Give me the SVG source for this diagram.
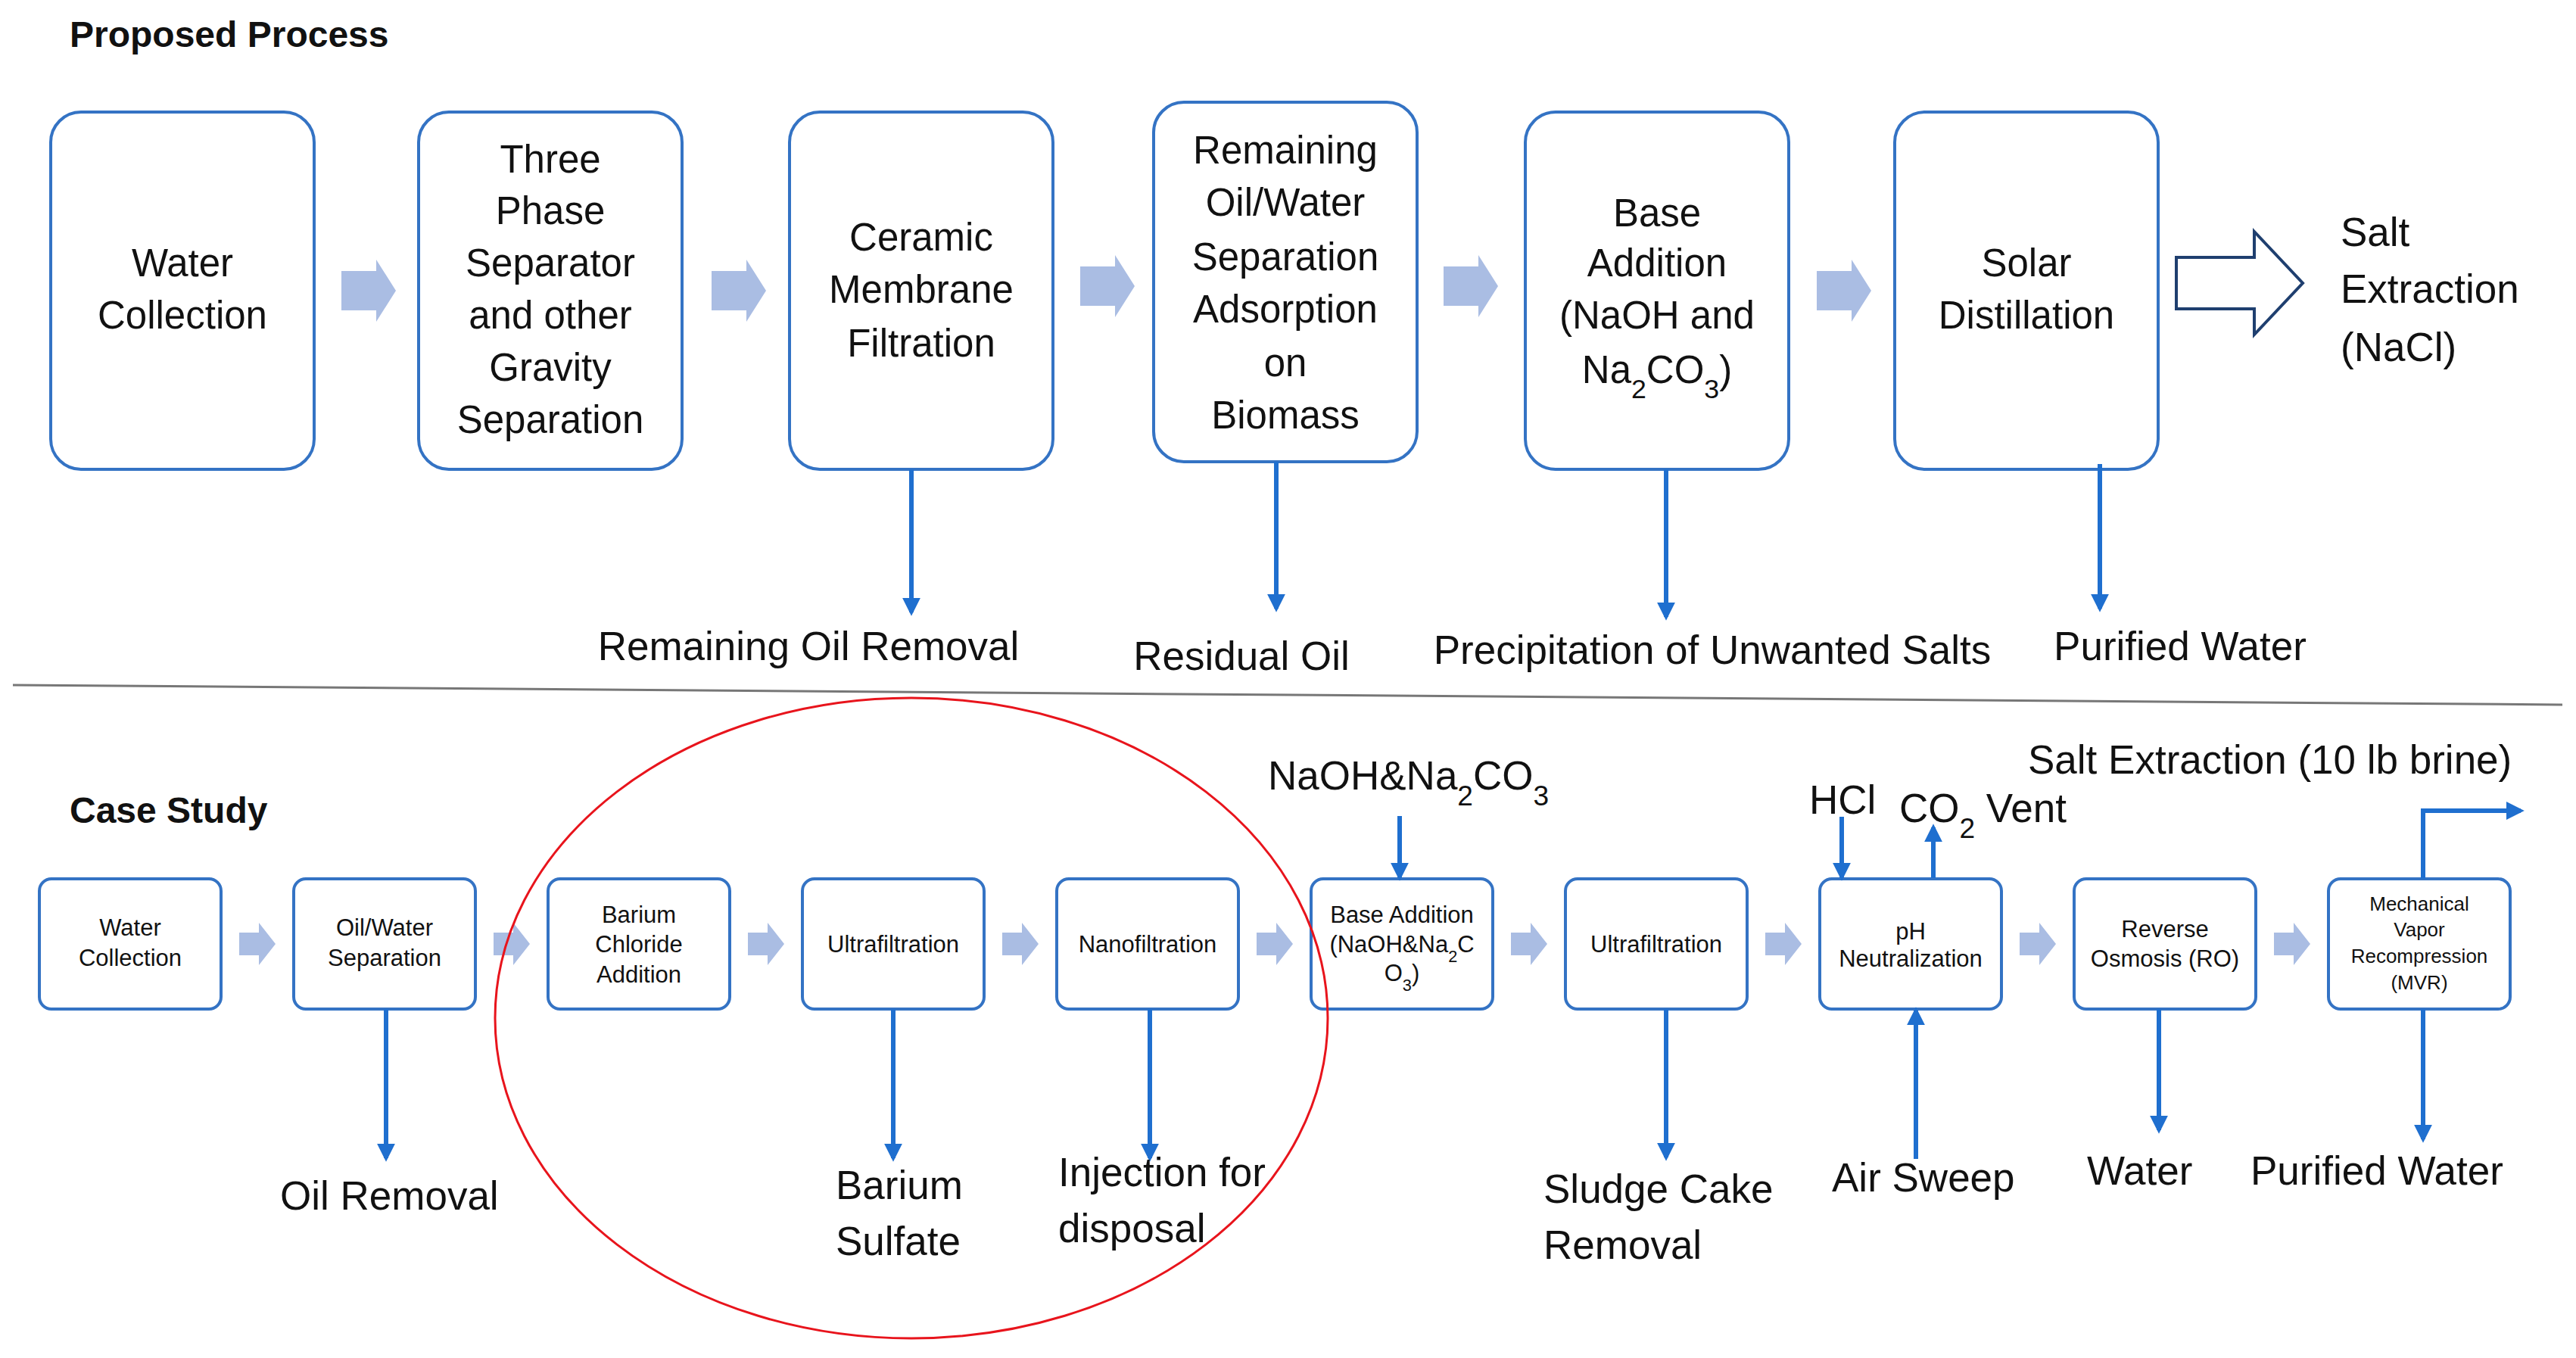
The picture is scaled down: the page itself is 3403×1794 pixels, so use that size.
<svg xmlns="http://www.w3.org/2000/svg" width="3403" height="1794" viewBox="0 0 3403 1794">
<style>
text{font-family:"Liberation Sans",Arial,sans-serif;fill:#111}
.b{fill:#fff;stroke:#3473c4;stroke-width:4}
.t{font-size:51px;text-anchor:middle}
.s{font-size:31px;text-anchor:middle}
.l{font-size:53px}
.h{font-size:48px;font-weight:bold}
.ch{fill:#aabde3}
.ln{stroke:#1f6fcf;stroke-width:6;fill:none}
.sub{font-size:70%}
</style>
<defs>
<marker id="ah" viewBox="0 0 10 10" refX="8" refY="5" markerWidth="4" markerHeight="4" orient="auto"><path d="M0,0L10,5L0,10z" fill="#1f6fcf"/></marker>
<path id="chv" d="M0,-26H46V-41L72,0L46,41V26H0z"/>
<path id="chs" d="M0,-15H26V-28L48,0L26,28V15H0z"/>
</defs>
<text class="h" x="92" y="62">Proposed Process</text>
<g id="p1"><rect class="b" x="67" y="148" width="348" height="472" rx="40"/><text class="t" x="241" y="365">Water</text><text class="t" x="241" y="434">Collection</text></g>
<g id="p2"><rect class="b" x="553" y="148" width="348" height="472" rx="40"/><text class="t" x="727"><tspan x="727" y="228">Three</tspan><tspan x="727" y="296">Phase</tspan><tspan x="727" y="365">Separator</tspan><tspan x="727" y="434">and other</tspan><tspan x="727" y="503">Gravity</tspan><tspan x="727" y="572">Separation</tspan></text></g>
<g id="p3"><rect class="b" x="1043" y="148" width="348" height="472" rx="40"/><text class="t"><tspan x="1217" y="331">Ceramic</tspan><tspan x="1217" y="400">Membrane</tspan><tspan x="1217" y="471">Filtration</tspan></text></g>
<g id="p4"><rect class="b" x="1524" y="135" width="348" height="475" rx="40"/><text class="t"><tspan x="1698" y="216">Remaining</tspan><tspan x="1698" y="285">Oil/Water</tspan><tspan x="1698" y="357">Separation</tspan><tspan x="1698" y="426">Adsorption</tspan><tspan x="1698" y="497">on</tspan><tspan x="1698" y="566">Biomass</tspan></text></g>
<g id="p5"><rect class="b" x="2015" y="148" width="348" height="472" rx="40"/><text class="t"><tspan x="2189" y="299">Base</tspan><tspan x="2189" y="365">Addition</tspan><tspan x="2189" y="434">(NaOH and</tspan><tspan x="2189" y="506">Na<tspan class="sub" baseline-shift="sub">2</tspan>CO<tspan class="sub" baseline-shift="sub">3</tspan>)</tspan></text></g>
<g id="p6"><rect class="b" x="2503" y="148" width="348" height="472" rx="40"/><text class="t"><tspan x="2677" y="365">Solar</tspan><tspan x="2677" y="434">Distillation</tspan></text></g>
<g id="p7"><path d="M2875,340H2978V306L3042,374L2978,442V408H2875z" fill="#fff" stroke="#1f3f6f" stroke-width="4"/><text class="l"><tspan x="3092" y="325">Salt</tspan><tspan x="3092" y="400">Extraction</tspan><tspan x="3092" y="477">(NaCl)</tspan></text></g>
<g id="conn-top">
<use href="#chv" class="ch" x="451" y="384"/><use href="#chv" class="ch" x="940" y="384"/><use href="#chv" class="ch" x="1427" y="378"/><use href="#chv" class="ch" x="1907" y="378"/><use href="#chv" class="ch" x="2400" y="384"/>
<path class="ln" marker-end="url(#ah)" d="M1204,620V809"/><path class="ln" marker-end="url(#ah)" d="M1686,610V804"/><path class="ln" marker-end="url(#ah)" d="M2201,620V815"/><path class="ln" marker-end="url(#ah)" d="M2774,613V804"/>
</g>
<text class="l" x="1068" y="872" text-anchor="middle">Remaining Oil Removal</text>
<text class="l" x="1640" y="885" text-anchor="middle">Residual Oil</text>
<text class="l" x="2262" y="877" text-anchor="middle">Precipitation of Unwanted Salts</text>
<text class="l" x="2880" y="872" text-anchor="middle">Purified Water</text>
<path d="M17,905L3385,931" stroke="#777" stroke-width="3"/>
<text class="h" x="92" y="1087">Case Study</text>
<g id="c1"><rect class="b" x="52" y="1161" width="240" height="172" rx="16"/><text class="s"><tspan x="172" y="1236">Water</tspan><tspan x="172" y="1276">Collection</tspan></text></g>
<g id="c2"><rect class="b" x="388" y="1161" width="240" height="172" rx="16"/><text class="s"><tspan x="508" y="1236">Oil/Water</tspan><tspan x="508" y="1276">Separation</tspan></text></g>
<g id="c3"><rect class="b" x="724" y="1161" width="240" height="172" rx="16"/><text class="s"><tspan x="844" y="1219">Barium</tspan><tspan x="844" y="1258">Chloride</tspan><tspan x="844" y="1298">Addition</tspan></text></g>
<g id="c4"><rect class="b" x="1060" y="1161" width="240" height="172" rx="16"/><text class="s" x="1180" y="1258">Ultrafiltration</text></g>
<g id="c5"><rect class="b" x="1396" y="1161" width="240" height="172" rx="16"/><text class="s" x="1516" y="1258">Nanofiltration</text></g>
<g id="c6"><rect class="b" x="1732" y="1161" width="240" height="172" rx="16"/><text class="s"><tspan x="1852" y="1219">Base Addition</tspan><tspan x="1852" y="1258">(NaOH&amp;Na<tspan class="sub" baseline-shift="sub">2</tspan>C</tspan><tspan x="1852" y="1296">O<tspan class="sub" baseline-shift="sub">3</tspan>)</tspan></text></g>
<g id="c7"><rect class="b" x="2068" y="1161" width="240" height="172" rx="16"/><text class="s" x="2188" y="1258">Ultrafiltration</text></g>
<g id="c8"><rect class="b" x="2404" y="1161" width="240" height="172" rx="16"/><text class="s"><tspan x="2524" y="1241">pH</tspan><tspan x="2524" y="1277">Neutralization</tspan></text></g>
<g id="c9"><rect class="b" x="2740" y="1161" width="240" height="172" rx="16"/><text class="s"><tspan x="2860" y="1238">Reverse</tspan><tspan x="2860" y="1277">Osmosis (RO)</tspan></text></g>
<g id="c10"><rect class="b" x="3076" y="1161" width="240" height="172" rx="16"/><text class="s" style="font-size:26px"><tspan x="3196" y="1203">Mechanical</tspan><tspan x="3196" y="1237">Vapor</tspan><tspan x="3196" y="1272">Recompression</tspan><tspan x="3196" y="1307">(MVR)</tspan></text></g>
<g id="conn-bottom">
<use href="#chs" class="ch" x="316" y="1247"/><use href="#chs" class="ch" x="652" y="1247"/><use href="#chs" class="ch" x="988" y="1247"/><use href="#chs" class="ch" x="1324" y="1247"/><use href="#chs" class="ch" x="1660" y="1247"/><use href="#chs" class="ch" x="1996" y="1247"/><use href="#chs" class="ch" x="2332" y="1247"/><use href="#chs" class="ch" x="2668" y="1247"/><use href="#chs" class="ch" x="3004" y="1247"/>
<path class="ln" marker-end="url(#ah)" d="M510,1333V1530"/><path class="ln" marker-end="url(#ah)" d="M1180,1333V1530"/><path class="ln" marker-end="url(#ah)" d="M1519,1333V1530"/><path class="ln" marker-end="url(#ah)" d="M2201,1333V1529"/><path class="ln" marker-end="url(#ah)" d="M2852,1333V1493"/><path class="ln" marker-end="url(#ah)" d="M3201,1333V1505"/>
<path class="ln" marker-end="url(#ah)" d="M2531,1531V1335"/><path class="ln" marker-end="url(#ah)" d="M2433,1079V1159"/><path class="ln" marker-end="url(#ah)" d="M2554,1160V1093"/><path class="ln" marker-end="url(#ah)" d="M1849,1078V1159"/><path class="ln" marker-end="url(#ah)" d="M3201,1161V1071H3330"/>
</g>
<text class="l" x="1675" y="1043">NaOH&amp;Na<tspan class="sub" baseline-shift="sub">2</tspan>CO<tspan class="sub" baseline-shift="sub">3</tspan></text>
<text class="l" x="2390" y="1075">HCl</text>
<text class="l" x="2509" y="1086">CO<tspan class="sub" baseline-shift="sub">2</tspan> Vent</text>
<text class="l" x="2679" y="1022">Salt Extraction (10 lb brine)</text>
<text class="l" x="370" y="1598">Oil Removal</text>
<text class="l"><tspan x="1104" y="1584">Barium</tspan><tspan x="1104" y="1658">Sulfate</tspan></text>
<text class="l"><tspan x="1398" y="1567">Injection for</tspan><tspan x="1398" y="1641">disposal</tspan></text>
<text class="l"><tspan x="2039" y="1589">Sludge Cake</tspan><tspan x="2039" y="1663">Removal</tspan></text>
<text class="l" x="2420" y="1574">Air Sweep</text>
<text class="l" x="2757" y="1565">Water</text>
<text class="l" x="2973" y="1565">Purified Water</text>
<ellipse cx="1204" cy="1345" rx="550" ry="423" fill="none" stroke="#e8141c" stroke-width="3"/>
</svg>
